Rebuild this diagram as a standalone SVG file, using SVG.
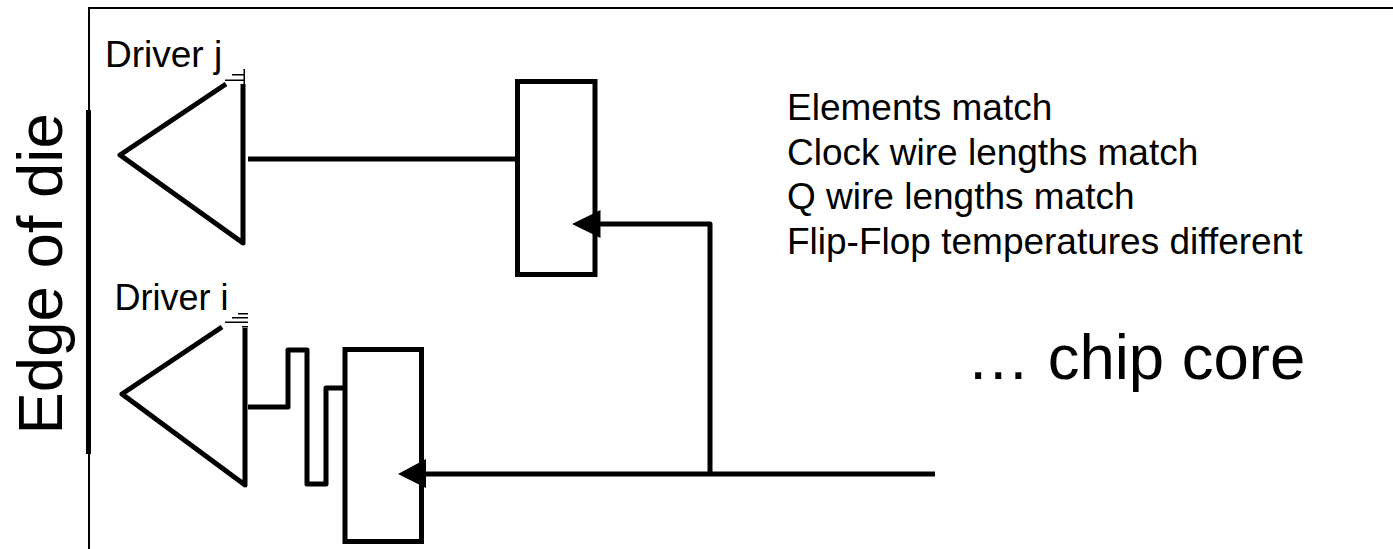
<svg xmlns="http://www.w3.org/2000/svg" width="1393" height="549" viewBox="0 0 1393 549">
<style>
.t{font-family:"Liberation Sans",Arial,sans-serif;fill:#000}
.w{fill:none;stroke:#000;stroke-width:5;stroke-linejoin:round}
.r{fill:#fff;stroke:#000;stroke-width:5;stroke-linejoin:miter}
.ar{fill:#000}
.d{fill:#000}
</style>
<rect width="1393" height="549" fill="#fff"/>
<g id="frame"><path d="M89 549V8H1393" fill="none" stroke="#000" stroke-width="2"/></g>
<g id="edge-of-die">
<rect x="86" y="110" width="5" height="344"/>
<text class="t" font-size="63.500" transform="translate(62 434.500) rotate(-90)">Edge of die</text>
</g>
<g id="driver-j">
<path class="w" d="M243 84V243L120 155L226 84"/>
<path class="d" d="M243.500 69h1.500v15h-1.500zM232 74h13v1.500h-13zM225 79.500h20v1.500h-20z"/>
<text class="t" font-size="37" x="105" y="67">Driver j</text>
</g>
<g id="driver-i">
<path class="w" d="M245 328V485L122 394L222 327"/>
<path class="d" d="M238 313h10v1.500h-10zM232 317h16v1.500h-16zM225 321.500h23v1.500h-23zM242 326h6v1.500h-6z"/>
<text class="t" font-size="36" x="114.500" y="310">Driver i</text>
</g>
<g id="flop-top"><rect class="r" x="517.500" y="81.500" width="77.500" height="193"/></g>
<g id="flop-bottom"><rect class="r" x="345" y="349.500" width="76.500" height="192"/></g>
<g id="connectors">
<path class="w" d="M248 159H517"/>
<path class="w" d="M248 407H288V350H307V484H326V388H343"/>
<path class="w" d="M600 224H710V474"/>
<path class="w" d="M426 474H935"/>
<path class="ar" d="M572 224L600.500 210V238Z"/>
<path class="ar" d="M398 474L426 459V488Z"/>
</g>
<g id="labels">
<text class="t" font-size="37" x="787" y="120">Elements match</text>
<text class="t" font-size="37" x="787" y="164.500">Clock wire lengths match</text>
<text class="t" font-size="37" x="787" y="209">Q wire lengths match</text>
<text class="t" font-size="37" x="787" y="253.500">Flip-Flop temperatures different</text>
<text class="t" font-size="63.500" x="966.500" y="379">… chip core</text>
</g>
</svg>
